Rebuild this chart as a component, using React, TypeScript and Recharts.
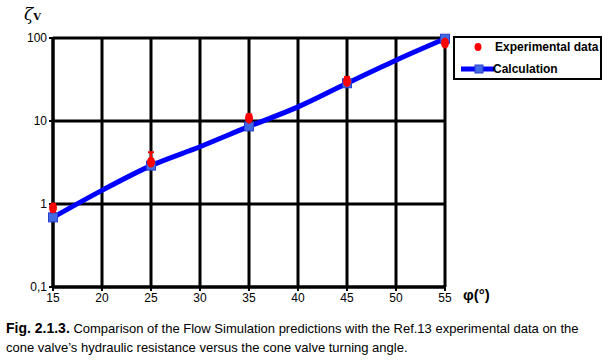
import React from "react";
import {
  ComposedChart,
  Line,
  ErrorBar,
  XAxis,
  YAxis,
  CartesianGrid,
} from "recharts";

const angles = [15, 20, 25, 30, 35, 40, 45, 50, 55];
const calcValues = [0.69, 1.46, 2.9, 4.9, 8.6, 14.8, 28.5, 54, 98];
const markedAngles = [15, 25, 35, 45, 55];

const expAngles = [15, 25, 35, 45, 55];
const expValues = [0.9, 3.2, 10.8, 30, 87];
const expLow = [0.8, 2.8, 9.8, 27, 80];
const expHigh = [1.0, 4.2, 12, 34, 95];

const xTicks = [15, 20, 25, 30, 35, 40, 45, 50, 55];
const yTicks = [0.1, 1, 10, 100];
const yTickLabels = ["0,1", "1", "10", "100"];

const calcRows = angles.map((phi, i) => ({ phi, calc: calcValues[i] }));
const expRows = expAngles.map((phi, i) => ({
  phi,
  exp: expValues[i],
  err: [expValues[i] - expLow[i], expHigh[i] - expValues[i]],
}));

const FONT = "'Liberation Sans', Arial, sans-serif";

const SquareDot = (props: any) => {
  const { cx, cy, payload } = props;
  if (!markedAngles.includes(payload.phi) || cx == null || cy == null) return null;
  return (
    <rect
      key={`sq-${payload.phi}`}
      x={cx - 4.5}
      y={cy - 4.5}
      width={9}
      height={9}
      fill="#4169e1"
      stroke="#2a3fd0"
      strokeWidth={1}
    />
  );
};

const RedMark = (props: any) => {
  const { cx, cy, payload } = props;
  if (cx == null || cy == null) return null;
  return <ellipse key={`rd-${payload.phi}`} cx={cx} cy={cy} rx={4} ry={5.5} fill="#ff0000" />;
};

const LegendBox = () => (
  <div
    style={{
      position: "absolute",
      left: 453,
      top: 36,
      width: 145,
      height: 40,
      border: "2px solid #000",
      background: "#fff",
      fontFamily: FONT,
      fontWeight: "bold",
      fontSize: 12,
    }}
  >
    <svg width={40} height={40} style={{ position: "absolute", left: 0, top: 0 }}>
      <ellipse cx={23} cy={9} rx={3.5} ry={4} fill="#ff0000" />
      <line x1={6} y1={31} x2={39} y2={31} stroke="#0000ff" strokeWidth={5} />
      <rect x={20} y={27} width={8} height={8} fill="#4169e1" stroke="#2a3fd0" />
    </svg>
    <div style={{ position: "absolute", left: 40, top: 2, whiteSpace: "nowrap" }}>
      Experimental data
    </div>
    <div style={{ position: "absolute", left: 38, top: 24, whiteSpace: "nowrap" }}>
      Calculation
    </div>
  </div>
);

export default function App() {
  return (
    <div
      style={{
        position: "absolute",
        left: 0,
        top: 0,
        width: 615,
        height: 360,
        background: "#fff",
        fontFamily: FONT,
      }}
    >
      <ComposedChart
        width={615}
        height={360}
        margin={{ top: 38, right: 170, bottom: 0, left: 0 }}
      >
        <CartesianGrid stroke="#000" strokeWidth={3} strokeOpacity={1} />
        <XAxis
          dataKey="phi"
          type="number"
          domain={[15, 55]}
          ticks={xTicks}
          axisLine={{ stroke: "#000", strokeWidth: 3 }}
          tickLine={{ stroke: "#000", strokeWidth: 2 }}
          tickSize={4}
          tick={{ fill: "#000", fontSize: 12, fontFamily: FONT }}
          height={73}
        />
        <YAxis
          type="number"
          scale="log"
          domain={[0.1, 100]}
          ticks={yTicks}
          tickFormatter={(v: number) => yTickLabels[yTicks.indexOf(v)] ?? String(v)}
          axisLine={{ stroke: "#000", strokeWidth: 3 }}
          tickLine={{ stroke: "#000", strokeWidth: 2 }}
          tickSize={4}
          tick={{ fill: "#000", fontSize: 12, fontFamily: FONT }}
          width={53}
        />
        <Line
          data={calcRows}
          dataKey="calc"
          name="Calculation"
          type="monotone"
          stroke="#0000ff"
          strokeWidth={5}
          dot={<SquareDot />}
          activeDot={false}
          isAnimationActive={false}
        />
        <Line
          data={expRows}
          dataKey="exp"
          name="Experimental data"
          stroke="none"
          strokeWidth={0}
          dot={<RedMark />}
          activeDot={false}
          isAnimationActive={false}
        >
          <ErrorBar
            dataKey="err"
            direction="y"
            width={3}
            stroke="#ff0000"
            strokeWidth={2}
            isAnimationActive={false}
          />
        </Line>
      </ComposedChart>
      <LegendBox />
      <div
        style={{
          position: "absolute",
          left: 24,
          top: 4,
          fontFamily: "'DejaVu Serif', serif",
          fontStyle: "italic",
          fontSize: 17,
          color: "#000",
        }}
      >
        ζ<span style={{ fontSize: 10, fontStyle: "normal", fontWeight: "bold" }}>V</span>
      </div>
      <div
        style={{
          position: "absolute",
          left: 463,
          top: 286,
          fontFamily: FONT,
          fontWeight: "bold",
          fontSize: 15,
          color: "#000",
        }}
      >
        φ(°)
      </div>
      <div
        style={{
          position: "absolute",
          left: 6,
          top: 319,
          width: 609,
          fontFamily: FONT,
          fontSize: 13,
          lineHeight: "19px",
          color: "#000",
          whiteSpace: "nowrap",
        }}
      >
        <span style={{ fontWeight: "bold", fontSize: 14 }}>Fig. 2.1.3.</span> Comparison of the Flow
        Simulation predictions with the Ref.13 experimental data on the
        <br />
        cone valve’s hydraulic resistance versus the cone valve turning angle.
      </div>
    </div>
  );
}
